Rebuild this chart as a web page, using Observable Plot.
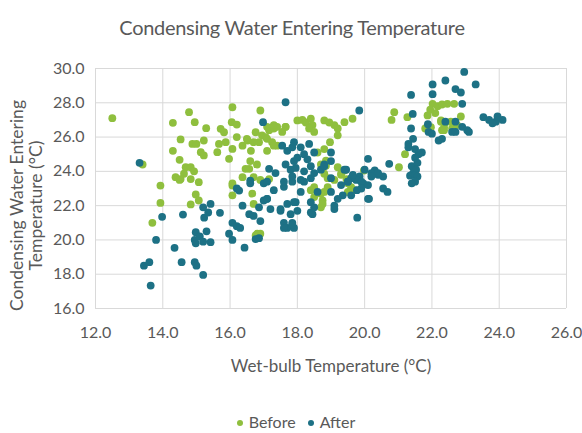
<!DOCTYPE html>
<html>
<head>
<meta charset="utf-8">
<script src="https://cdn.jsdelivr.net/npm/d3@7"></script>
<script src="https://cdn.jsdelivr.net/npm/@observablehq/plot@0.6"></script>
<style>
  body { margin: 0; background: #fff; font-family: Lato, "Open Sans", sans-serif; }
  #wrap { position: relative; width: 582px; height: 433px; }
  #title { position: absolute; left: 0; top: 15px; width: 584px; text-align: center; font-size: 20px; color: #595959; letter-spacing: -0.3px; }
  #chart { position: absolute; left: 0; top: 50px; }
  #legend { position: absolute; left: 0; top: 412px; width: 604px; text-align: center; font-size: 16px; color: #595959; }
  .sw { display: inline-block; width: 6px; height: 6px; border-radius: 50%; margin: 0 6px 2px 0; vertical-align: middle; }
</style>
</head>
<body>
<div id="wrap">
  <div id="title">Condensing Water Entering Temperature</div>
  <div id="chart"></div>
  <div id="legend"></div>
</div>
<script>
const title = "Condensing Water Entering Temperature";
const xLabel = "Wet-bulb Temperature (°C)";
const yLabel = "Condensing Water Entering\nTemperature (°C)";
const seriesNames = ["Before", "After"];
const seriesColors = ["#8fbf3e", "#1d7185"];
const xTicks = [12, 14, 16, 18, 20, 22, 24, 26];
const yTicks = [16, 18, 20, 22, 24, 26, 28, 30];

const beforeX = [12.5,13.4,14.78,14.3,14.95,15.29,16.07,16.05,16.2,14.53,14.88,15.0,15.22,14.3,14.5,15.13,15.22,15.62,15.97,15.72,15.82,15.87,15.67,16.07,16.2,16.37,16.52,16.62,16.76,16.9,16.95,17.06,17.16,17.3,17.4,17.65,17.25,17.4,16.86,17.1,14.68,14.83,14.93,14.63,14.38,14.53,14.83,13.93,15.07,16.07,16.37,16.57,17.16,13.93,13.69,14.98,14.83,15.07,16.07,16.07,16.66,16.7,16.81,16.9,14.5,
  18.0,18.15,18.25,18.4,18.45,18.35,18.5,18.8,18.95,19.1,19.2,19.2,19.4,19.64,18.97,18.8,18.6,18.85,20.88,20.8,21.27,21.2,21.02,21.87,22.02,22.17,22.3,22.46,22.66,22.1,22.27,22.36,22.3,22.56,22.7,22.86,21.97,21.8,19.2,19.4,19.3,19.46,18.8,18.9,19.98,18.7,
  19.1,18.9,18.8,18.75,18.7,19.6,19.5,18.4,18.5,18.85,16.5,16.7,17.1,17.3,17.55,17.65,17.1,17.3,16.46,16.6,16.8,16.7,16.9,18.5,18.7,18.75,19.3,19.5,19.7,21.95,22.27,22.4,22.36,22.6,22.75,16.76];
const beforeY = [27.1,24.4,27.45,26.83,26.87,26.52,27.74,26.87,26.73,25.86,25.6,25.6,25.8,25.2,24.67,25.12,24.93,25.12,24.73,26.48,26.28,25.7,25.6,25.31,26.0,25.5,25.8,25.2,26.28,27.55,26.1,26.0,26.4,26.5,26.6,26.6,25.7,25.5,25.7,25.2,24.24,24.24,24.0,23.86,23.66,23.55,23.55,23.17,23.37,23.17,23.66,24.15,23.55,22.16,21.0,22.65,22.07,22.3,22.6,23.3,22.7,22.1,20.36,20.36,23.5,
  26.97,27.0,26.85,27.07,26.7,26.5,26.3,26.97,26.85,26.7,26.5,26.1,26.87,27.07,25.7,25.3,25.1,24.63,27.45,27.0,27.16,25.0,24.24,27.26,27.94,27.8,27.9,27.94,27.94,27.4,26.9,26.58,26.4,26.9,26.7,27.2,26.58,26.5,24.24,24.05,23.8,23.55,23.86,23.6,24.05,24.4,
  23.5,23.08,22.8,22.3,21.9,23.08,22.8,22.9,22.5,24.33,25.9,25.7,26.6,26.7,26.3,26.6,25.9,25.5,24.15,24.6,24.4,23.66,23.5,23.08,22.7,22.1,23.86,23.3,22.9,27.6,26.97,26.85,26.4,26.5,26.7,20.26];

const afterX = [13.31,13.64,13.44,13.6,13.8,13.98,14.35,14.56,14.95,15.0,15.2,14.6,14.98,14.95,15.1,14.98,15.2,15.3,15.42,15.23,15.35,15.42,15.2,15.7,15.97,16.07,16.43,16.07,16.2,16.3,16.27,16.37,16.57,16.7,16.86,16.9,17.0,17.1,16.76,16.86,17.2,17.5,17.6,17.7,17.7,17.8,16.6,17.0,17.3,17.6,
  17.65,16.98,17.55,17.7,17.85,17.16,17.35,17.65,17.8,17.9,16.6,16.2,17.1,17.6,17.85,
  19.84,22.96,22.4,23.3,22.02,22.02,21.38,22.7,22.86,22.9,21.43,21.38,21.88,21.9,22.0,22.3,22.2,22.4,22.7,22.6,22.7,22.9,23.05,23.1,23.53,23.7,21.44,21.3,21.3,21.5,21.6,21.7,21.5,21.4,21.44,21.35,20.73,20.1,20.3,20.4,20.55,20.2,19.85,19.96,19.75,19.6,19.4,19.0,19.0,18.8,18.5,18.2,18.1,17.9,18.35,18.0,18.3,18.4,18.2,17.95,17.85,18.1,18.4,18.7,19.0,19.5,20.55,
  21.57,21.53,21.5,21.57,21.5,20.68,20.4,20.2,20.13,19.78,19.9,19.9,19.77,19.6,19.5,19.3,19.35,19.2,19.1,19.0,18.6,18.4,18.45,17.95,18.0,17.85,17.9,18.2,18.1,18.5,18.8,19.45,19.65,20.0,20.1,
  17.6,17.85,20.1,21.4,17.1,17.5,17.9,18.4,18.5,19.1,23.9,24.1,23.8,23.95];
const afterY = [24.5,17.34,18.5,18.7,20.0,21.35,19.54,18.7,18.7,18.5,17.96,21.48,20.45,20.0,20.2,19.8,19.9,20.5,19.87,21.3,21.6,22.1,21.9,21.58,20.36,20.0,19.55,21.0,20.8,20.7,22.88,22.0,21.5,21.4,21.9,21.1,22.3,22.4,20.05,20.1,21.8,21.7,21.0,20.7,22.1,21.5,23.3,23.3,22.9,23.1,
  28.03,26.87,25.5,25.2,25.4,24.15,23.9,24.4,24.1,24.6,23.46,23.0,23.4,23.4,23.4,
  27.55,29.8,29.3,29.07,29.07,28.5,28.46,28.8,28.6,27.94,27.35,26.5,26.75,26.3,26.2,25.9,25.8,26.9,26.9,26.3,26.3,26.6,26.4,26.3,27.16,27.0,25.9,25.6,25.4,25.3,25.0,25.1,24.8,24.3,23.9,23.75,24.44,24.73,24.05,23.8,23.7,23.9,23.7,23.3,23.5,23.6,24.1,24.6,25.1,24.4,25.1,25.0,25.4,25.7,25.6,24.8,24.7,24.3,24.0,24.2,23.7,23.5,23.6,24.1,23.6,23.4,23.0,
  24.5,24.1,23.8,23.7,23.4,22.8,23.9,23.7,22.4,21.3,23.4,23.0,22.9,22.6,23.4,23.2,22.6,22.4,22.0,22.8,22.8,22.2,21.5,22.2,21.7,21.0,20.7,23.4,22.8,23.9,24.3,24.1,23.8,24.1,23.2,
  20.7,20.9,22.4,23.3,22.4,21.8,22.2,21.6,21.9,21.8,26.9,27.0,26.8,27.2];

const before = beforeX.map((x, i) => ({x, y: beforeY[i], s: seriesNames[0]}));
const after = afterX.map((x, i) => ({x, y: afterY[i], s: seriesNames[1]}));

const fmt = d => d.toFixed(1);
const chart = Plot.plot({
  width: 582,
  height: 330,
  marginLeft: 95,
  marginRight: 16,
  marginTop: 18,
  marginBottom: 72,
  style: { fontFamily: "Lato, 'Open Sans', sans-serif", fontSize: "15px", color: "#595959", background: "transparent" },
  x: { domain: [12, 26] },
  y: { domain: [16, 30] },
  color: { domain: seriesNames, range: seriesColors },
  marks: [
    Plot.gridX(xTicks, { stroke: "#d9d9d9", strokeOpacity: 1, strokeWidth: 1 }),
    Plot.gridY(yTicks, { stroke: "#d9d9d9", strokeOpacity: 1, strokeWidth: 1 }),
    Plot.axisX({ ticks: xTicks, tickFormat: fmt, tickSize: 0, tickPadding: 18, label: null, fontSize: 16 }),
    Plot.axisY({ ticks: yTicks, tickFormat: fmt, tickSize: 0, tickPadding: 11, label: null, fontSize: 16 }),
    Plot.dot(before, { x: "x", y: "y", fill: "s", r: 3.9, stroke: null }),
    Plot.dot(after, { x: "x", y: "y", fill: "s", r: 3.9, stroke: null }),
    Plot.text([xLabel], { frameAnchor: "bottom", dy: 58, lineAnchor: "middle", fontSize: 17, fill: "#595959" }),
    Plot.text([yLabel], { frameAnchor: "left", textAnchor: "middle", rotate: -90, dx: -69, dy: 17, lineAnchor: "middle", fontSize: 17.5, lineHeight: 1.05, fill: "#595959" })
  ]
});
document.getElementById("chart").appendChild(chart);

const legend = document.getElementById("legend");
seriesNames.forEach((name, i) => {
  const span = document.createElement("span");
  span.style.marginRight = "12px";
  const sw = document.createElement("span");
  sw.className = "sw";
  sw.style.background = seriesColors[i];
  span.appendChild(sw);
  span.appendChild(document.createTextNode(name));
  legend.appendChild(span);
});
</script>
</body>
</html>
